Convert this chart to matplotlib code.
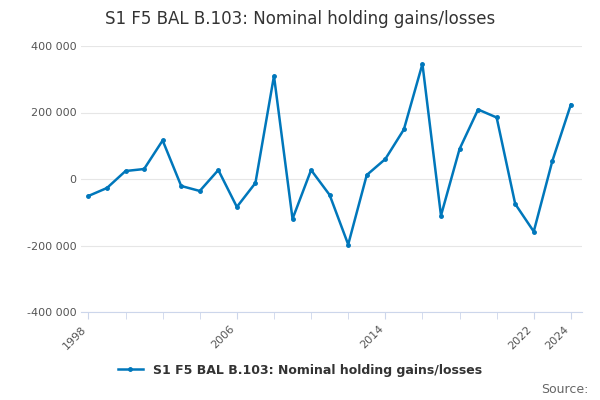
import matplotlib.pyplot as plt

years = list(range(1998, 2025))
values = [-51000, -27000, 24000, 30000, 116000, -21000, -36000, 27000, -84000, -12000,
          310000, -120000, 27000, -48000, -197000, 12000, 60000, 149000, 346000, -110000,
          90000, 209000, 185000, -75000, -158000, 54000, 224000]
label_years = [1998, 2006, 2014, 2022, 2024]
series_name = "S1 F5 BAL B.103: Nominal holding gains/losses"

fig = plt.figure(figsize=(6, 4), dpi=100)
ax = fig.add_axes([0.135, 0.22, 0.835, 0.665])
ax.plot(years, values, color="#0077bb", lw=1.8, marker="o", ms=2.5, label=series_name)
ax.set_ylim(-400000, 400000)
ax.set_xlim(1997.6, 2024.6)
yt = [-400000, -200000, 0, 200000, 400000]
ax.set_yticks(yt)
ax.set_yticklabels([f"{v:,}".replace(",", " ") for v in yt], fontsize=8, color="#555555")
ax.set_xticks(range(1998, 2025, 2), minor=True)
ax.set_xticks(label_years)
ax.set_xticklabels([str(y) for y in label_years], rotation=45, ha="right", fontsize=8, color="#555555")
ax.tick_params(axis="x", which="both", length=5, color="#ccd6eb")
ax.tick_params(axis="y", length=0)
ax.grid(axis="y", color="#e6e6e6", lw=0.8)
for s in ["top", "right", "left"]:
    ax.spines[s].set_visible(False)
ax.spines["bottom"].set_color("#ccd6eb")
fig.suptitle(series_name, x=0.5, y=0.975, fontsize=12, color="#333333")
fig.legend(loc="lower center", bbox_to_anchor=(0.5, 0.03), frameon=False,
           prop={"size": 9, "weight": "bold"}, labelcolor="#333333", handlelength=2)
fig.text(0.98, 0.01, "Source:", ha="right", va="bottom", fontsize=9, color="#666666")
fig.savefig("out.png")
